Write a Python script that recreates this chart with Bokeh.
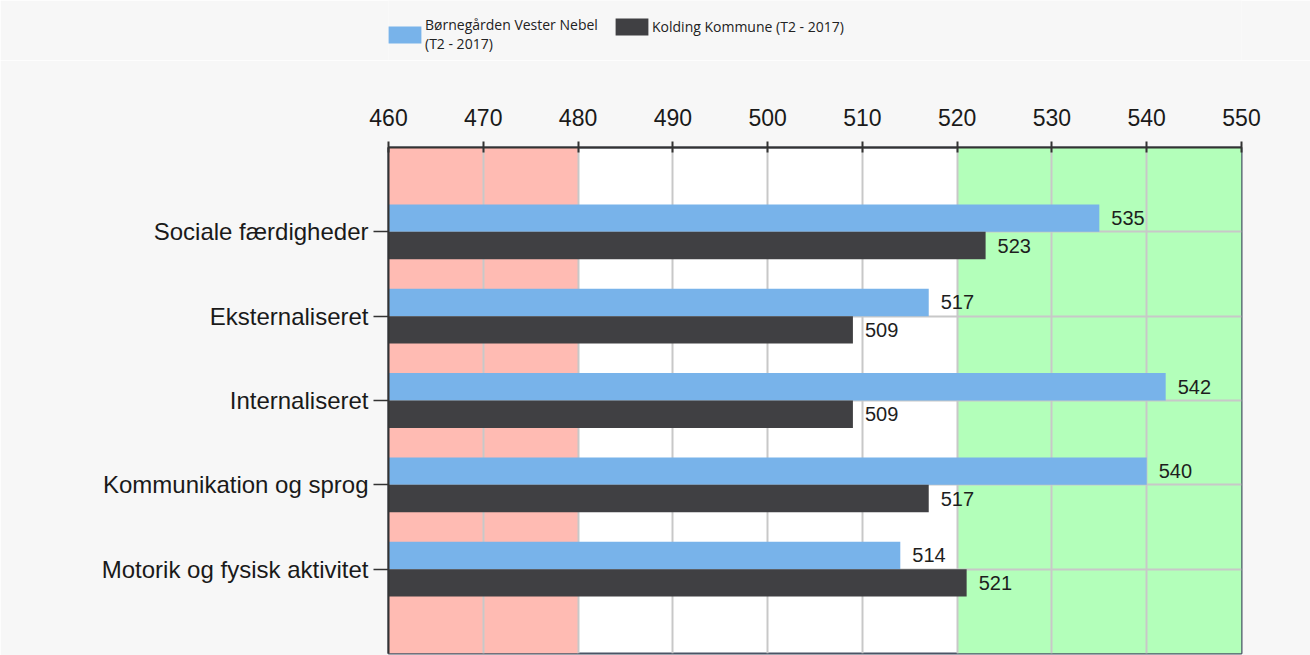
from bokeh.plotting import figure
from bokeh.layouts import column
from bokeh.models import (ColumnDataSource, FixedTicker, BoxAnnotation, Legend, LegendItem,
                          Range1d)
from bokeh.embed import file_html
from bokeh.resources import INLINE

# ---- data ----
categories = ["Sociale færdigheder", "Eksternaliseret", "Internaliseret",
              "Kommunikation og sprog", "Motorik og fysisk aktivitet"]
series_names = ["Børnegården Vester Nebel\n(T2 - 2017)", "Kolding Kommune (T2 - 2017)"]
vester_nebel = [535, 517, 542, 540, 514]
kolding = [523, 509, 509, 517, 521]
x_ticks = [460, 470, 480, 490, 500, 510, 520, 530, 540, 550]
x_min, x_max = 460, 550
low_limit, high_limit = 480, 520

colors = ["#78b3ea", "#404043"]
bg = "#f7f7f7"
bar_h = 0.325

n = len(categories)
ypos = [n - i for i in range(n)]  # top to bottom

src_a = ColumnDataSource(dict(y=[v + bar_h / 2 for v in ypos], x=vester_nebel,
                              t=[str(v) for v in vester_nebel]))
src_b = ColumnDataSource(dict(y=[v - bar_h / 2 for v in ypos], x=kolding,
                              t=[str(v) for v in kolding]))

# ---- legend strip ----
lg = figure(width=1310, height=60, output_backend="svg", toolbar_location=None,
            x_range=Range1d(0, 1), y_range=Range1d(0, 1),
            min_border_left=388, min_border_right=69, min_border_top=0, min_border_bottom=0)
lg.axis.visible = False
lg.grid.visible = False
lg.outline_line_color = None
lg.border_fill_color = bg
lg.background_fill_color = bg
# off-screen placeholder renderers that only carry the legend swatches' styles
la = lg.hbar(y="y", right="right", left=-10, height=1,
             source=ColumnDataSource(dict(y=[-10], right=[-9])),
             fill_color=colors[0], line_color=None)
lb = lg.hbar(y="y", right="right", left=-10, height=1,
             source=ColumnDataSource(dict(y=[-10], right=[-9])),
             fill_color=colors[1], line_color=None)
common = dict(orientation="horizontal", glyph_width=41, glyph_height=21, label_standoff=-3,
              padding=0, margin=0, background_fill_alpha=0, border_line_color=None,
              label_text_font_size="14px", label_text_font="Open Sans",
              label_text_color="#222222")
lg.add_layout(Legend(items=[LegendItem(label=series_names[0], renderers=[la])],
                     location=(-4, 7), **common), "center")
lg.add_layout(Legend(items=[LegendItem(label=series_names[1], renderers=[lb])],
                     location=(223, 23), **common), "center")

# ---- main chart ----
p = figure(width=1310, height=595, output_backend="svg", toolbar_location=None,
           x_range=Range1d(x_min, x_max), y_range=Range1d(0, n + 1),
           x_axis_location="above",
           min_border_left=388, min_border_right=69, min_border_top=87, min_border_bottom=2)

p.border_fill_color = bg
p.background_fill_color = "#ffffff"
p.outline_line_color = "#4a5566"
p.outline_line_width = 2

# background bands
p.add_layout(BoxAnnotation(left=x_min, right=low_limit, fill_color="#ffbbb3", fill_alpha=1,
                           line_color=None, level="image"))
p.add_layout(BoxAnnotation(left=high_limit, right=x_max, fill_color="#b3ffba", fill_alpha=1,
                           line_color=None, level="image"))

p.hbar(y="y", right="x", left=x_min, height=bar_h, source=src_a,
       fill_color=colors[0], line_color=None)
p.hbar(y="y", right="x", left=x_min, height=bar_h, source=src_b,
       fill_color=colors[1], line_color=None)

for s in (src_a, src_b):
    p.text(x="x", y="y", text="t", source=s, x_offset=12, text_baseline="middle",
           text_align="left", text_font_size="20px", text_color="#1e1e1e",
           text_font={"value": "Liberation Sans"})

# axes
xa = p.xaxis[0]
xa.ticker = FixedTicker(ticks=x_ticks)
xa.minor_tick_line_color = None
xa.major_tick_in = 5
xa.major_tick_out = 6
xa.major_label_standoff = 16
xa.major_label_text_font_size = "23px"
xa.major_label_text_font = "Liberation Sans"
xa.major_label_text_color = "#1a1a1a"
xa.axis_line_color = "#333333"
xa.axis_line_width = 2
xa.major_tick_line_color = "#333333"
xa.major_tick_line_width = 2

ya = p.yaxis[0]
ya.ticker = FixedTicker(ticks=ypos)
ya.major_label_overrides = {y: c for y, c in zip(ypos, categories)}
ya.minor_tick_line_color = None
ya.major_tick_in = 0
ya.major_tick_out = 15
ya.major_label_standoff = 5
ya.major_label_text_font_size = "24px"
ya.major_label_text_font = "Liberation Sans"
ya.major_label_text_color = "#1a1a1a"
ya.axis_line_color = "#333333"
ya.axis_line_width = 2
ya.major_tick_line_color = "#333333"
ya.major_tick_line_width = 1.5

p.xgrid.ticker = FixedTicker(ticks=x_ticks)
p.xgrid.grid_line_color = "#c8c8c8"
p.xgrid.grid_line_width = 2
p.ygrid.ticker = FixedTicker(ticks=ypos)
p.ygrid.grid_line_color = "#c8c8c8"
p.ygrid.grid_line_width = 2

page = column(lg, p, spacing=0)
open("out.html", "w").write(file_html(page, INLINE))
